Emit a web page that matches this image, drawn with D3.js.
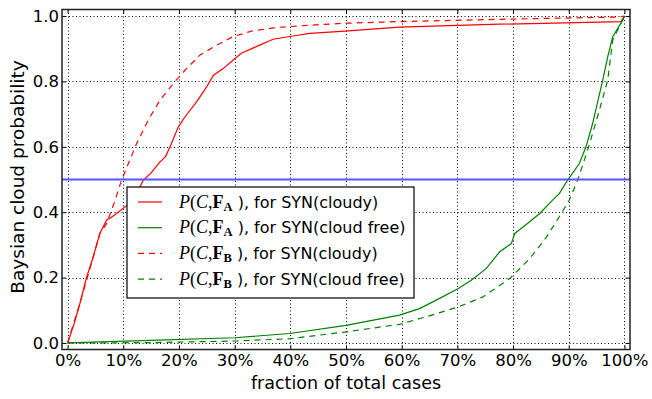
<!DOCTYPE html>
<html>
<head>
<meta charset="utf-8">
<script src="https://cdn.jsdelivr.net/npm/d3@7"></script>
<style>
  body { margin: 0; background: #fff; }
  svg { display: block; font-family: "DejaVu Sans", sans-serif; }
</style>
</head>
<body>
<svg id="chart" width="652" height="399"></svg>
<script>
// values
const redA_x = [0, 0.012, 0.022, 0.034, 0.046, 0.058, 0.07, 0.078, 0.088, 0.106, 0.118, 0.13, 0.136, 0.15, 0.166, 0.176, 0.184, 0.199, 0.211, 0.232, 0.25, 0.262, 0.28, 0.297, 0.312, 0.345, 0.369, 0.405, 0.435, 0.498, 0.596, 0.776, 0.994, 1.0]
const redA_y = [0, 0.06, 0.12, 0.2, 0.263, 0.335, 0.376, 0.384, 0.396, 0.42, 0.44, 0.478, 0.498, 0.52, 0.554, 0.57, 0.6, 0.661, 0.692, 0.738, 0.784, 0.819, 0.84, 0.865, 0.886, 0.911, 0.929, 0.939, 0.947, 0.954, 0.966, 0.975, 0.983, 1.0]

const greenA_x = [0, 0.148, 0.3, 0.399, 0.5, 0.596, 0.632, 0.662, 0.701, 0.725, 0.752, 0.776, 0.797, 0.803, 0.818, 0.848, 0.871, 0.883, 0.898, 0.919, 0.931, 0.943, 0.961, 0.97, 0.979, 0.997, 1.0]
const greenA_y = [0, 0.008, 0.016, 0.029, 0.054, 0.085, 0.105, 0.131, 0.166, 0.192, 0.228, 0.279, 0.304, 0.335, 0.355, 0.396, 0.437, 0.457, 0.498, 0.549, 0.6, 0.672, 0.804, 0.875, 0.937, 0.988, 1.0]

const redB_x = [0, 0.022, 0.046, 0.058, 0.07, 0.084, 0.097, 0.124, 0.145, 0.166, 0.193, 0.214, 0.238, 0.268, 0.297, 0.333, 0.375, 0.435, 0.498, 0.596, 0.776, 0.99, 1.0]
const redB_y = [0, 0.12, 0.263, 0.335, 0.365, 0.43, 0.498, 0.61, 0.682, 0.743, 0.8, 0.84, 0.881, 0.911, 0.937, 0.955, 0.965, 0.972, 0.978, 0.983, 0.99, 0.997, 1.0]

const greenB_x = [0, 0.15, 0.303, 0.399, 0.5, 0.596, 0.644, 0.701, 0.746, 0.794, 0.83, 0.86, 0.883, 0.901, 0.916, 0.934, 0.955, 0.97, 0.979, 0.994, 1.0]
const greenB_y = [0, 0.001, 0.006, 0.013, 0.034, 0.057, 0.08, 0.11, 0.141, 0.197, 0.258, 0.324, 0.386, 0.437, 0.498, 0.59, 0.712, 0.804, 0.927, 0.978, 1.0]

const xTicks = [0, 0.1, 0.2, 0.3, 0.4, 0.5, 0.6, 0.7, 0.8, 0.9, 1.0]
const yTicks = [0, 0.2, 0.4, 0.6, 0.8, 1.0]
const threshold = 0.5

const seriesNames = ["A", "A", "B", "B"]
const seriesCases = ["cloudy", "cloud free", "cloudy", "cloud free"]

const series = [
  {x: redA_x, y: redA_y, color: "#ff0000", dash: null},
  {x: greenA_x, y: greenA_y, color: "#008000", dash: null},
  {x: redB_x, y: redB_y, color: "#ff0000", dash: "6,5"},
  {x: greenB_x, y: greenB_y, color: "#008000", dash: "6,5"}
]

const svg = d3.select("#chart")
const pLeft = 62, pRight = 630, pTop = 9.5, pBottom = 349.5

const x = d3.scaleLinear().domain([-0.01, 1.01]).range([pLeft, pRight])
const y = d3.scaleLinear().domain([-0.02, 1.02]).range([pBottom, pTop])

// grid
const grid = svg.append("g").attr("stroke", "#000").attr("stroke-width", 1).attr("stroke-dasharray", "1,2.5")
grid.selectAll("line.gx").data(xTicks).join("line").attr("class", "gx")
  .attr("x1", d => Math.round(x(d)) + .5).attr("x2", d => Math.round(x(d)) + .5)
  .attr("y1", pTop).attr("y2", pBottom)
grid.selectAll("line.gy").data(yTicks).join("line").attr("class", "gy")
  .attr("y1", d => Math.round(y(d)) + .5).attr("y2", d => Math.round(y(d)) + .5)
  .attr("x1", pLeft).attr("x2", pRight)

// curves
const line = d3.line()
series.forEach(s => {
  svg.append("path")
    .datum(s.x.map((v, i) => [x(v), y(s.y[i])]))
    .attr("d", line)
    .attr("fill", "none")
    .attr("stroke", s.color)
    .attr("stroke-width", 1.2)
    .attr("stroke-dasharray", s.dash)
})

svg.append("line")
  .attr("x1", pLeft).attr("x2", pRight)
  .attr("y1", y(threshold)).attr("y2", y(threshold))
  .attr("stroke", "#5555ff").attr("stroke-width", 1.8)

// axes: inward ticks on every side, labels on bottom and left
const tickLen = 4
svg.append("g").attr("transform", `translate(0,${pBottom})`)
  .call(d3.axisBottom(x).tickValues(xTicks).tickSize(-tickLen).tickPadding(4.5).tickFormat(d3.format(".0%")))
svg.append("g").attr("transform", `translate(0,${pTop})`)
  .call(d3.axisTop(x).tickValues(xTicks).tickSize(-tickLen).tickFormat(""))
svg.append("g").attr("transform", `translate(${pLeft},0)`)
  .call(d3.axisLeft(y).tickValues(yTicks).tickSize(-tickLen).tickPadding(3).tickFormat(d3.format(".1f")))
svg.append("g").attr("transform", `translate(${pRight},0)`)
  .call(d3.axisRight(y).tickValues(yTicks).tickSize(-tickLen).tickFormat(""))
svg.selectAll(".domain").remove()
svg.selectAll(".tick line").attr("stroke", "#000")
svg.selectAll(".tick text").attr("font-size", 16.5).attr("font-family", "DejaVu Sans").attr("fill", "#000")

svg.append("rect")
  .attr("x", pLeft).attr("y", pTop).attr("width", pRight - pLeft).attr("height", pBottom - pTop)
  .attr("fill", "none").attr("stroke", "#222").attr("stroke-width", 1.5)

svg.append("text")
  .attr("x", (pLeft + pRight) / 2).attr("y", 389)
  .attr("text-anchor", "middle").attr("font-size", 17.5)
  .text("fraction of total cases")
svg.append("text")
  .attr("transform", `translate(24,177) rotate(-90)`)
  .attr("text-anchor", "middle").attr("font-size", 18.5)
  .text("Baysian cloud probability")

// legend
const lg = svg.append("g").attr("transform", "translate(127,187)")
lg.append("rect").attr("width", 287).attr("height", 111)
  .attr("fill", "#fff").attr("stroke", "#000").attr("stroke-width", 1.2)
series.forEach((s, i) => {
  const ry = 15 + i * 25.7
  lg.append("line").attr("x1", 11).attr("x2", 35).attr("y1", ry).attr("y2", ry)
    .attr("stroke", s.color).attr("stroke-width", 1.2).attr("stroke-dasharray", s.dash)
  const t = lg.append("text").attr("x", 52).attr("y", ry + 5.5).attr("font-size", 16)
  t.append("tspan").attr("font-family", "Liberation Serif").attr("font-style", "italic").attr("font-size", 18).text("P")
  t.append("tspan").attr("font-family", "Liberation Serif").attr("font-size", 18).text("(")
  t.append("tspan").attr("font-family", "Liberation Serif").attr("font-style", "italic").attr("font-size", 18).text("C")
  t.append("tspan").attr("font-family", "Liberation Serif").attr("font-size", 18).text(",")
  t.append("tspan").attr("font-family", "Liberation Serif").attr("font-weight", "bold").attr("font-size", 18).text("F")
  t.append("tspan").attr("font-family", "Liberation Serif").attr("font-weight", "bold").attr("font-size", 12.5).attr("dy", 3).text(seriesNames[i])
  t.append("tspan").attr("dy", -3).text(" ), for SYN(" + seriesCases[i] + ")")
})
</script>
</body>
</html>
